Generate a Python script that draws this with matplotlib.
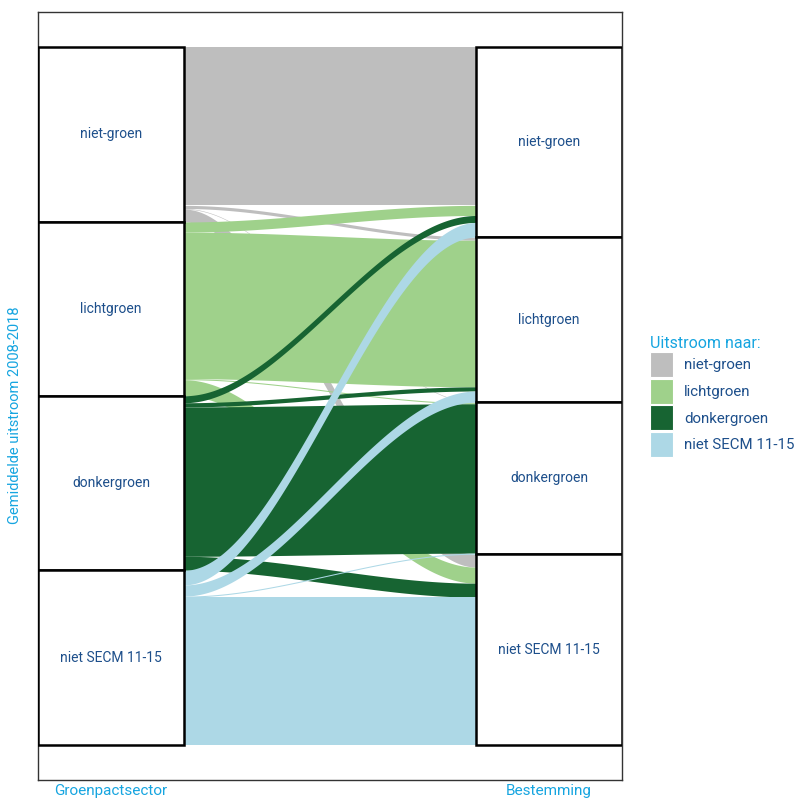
import numpy as np
import matplotlib
matplotlib.use("Agg")
import matplotlib.pyplot as plt
from matplotlib.patches import Rectangle, Patch

plt.rcParams['font.family'] = ['Roboto', 'DejaVu Sans']

# ---- data ----
categories = ["niet-groen", "lichtgroen", "donkergroen", "niet SECM 11-15"]
axis_labels = ["Groenpactsector", "Bestemming"]
# flows in % : rows = origin (Groenpactsector), cols = destination (Bestemming)
from_niet_groen = [22.7, 0.45, 0.08, 1.85]
from_lichtgroen = [1.45, 21.0, 0.15, 2.3]
from_donkergroen = [1.0, 0.6, 21.4, 2.0]
from_niet_secm = [2.1, 1.6, 0.15, 21.2]
colors = ["#bebebe", "#9fd18b", "#176432", "#add8e6"]

flows = np.array([from_niet_groen, from_lichtgroen, from_donkergroen, from_niet_secm])
n = len(categories)

dark_blue = "#1d4f8b"
cyan = "#16a5e0"

fig = plt.figure(figsize=(7.94, 8.0), dpi=100)
ax = fig.add_axes([38/794, 20/800, (622-38)/794, (780-12)/800])

w = 1/3
xl0 = 1 + w/2
xr0 = 2 - w/2

total = flows.sum()
scale = 100.0 / total
F = flows * scale

left_tot = F.sum(axis=1)
right_tot = F.sum(axis=0)
left_top = 100 - np.concatenate([[0], np.cumsum(left_tot)[:-1]])
right_top = 100 - np.concatenate([[0], np.cumsum(right_tot)[:-1]])

t = np.linspace(0, 1, 200)
s = 3*t**2 - 2*t**3
xs = xl0 + (xr0 - xl0) * t

# positions
ltop = np.zeros((n, n)); rtop = np.zeros((n, n))
for i in range(n):
    off = left_top[i]
    for j in range(n):
        ltop[i, j] = off
        off -= F[i, j]
for j in range(n):
    off = right_top[j]
    for i in range(n):
        rtop[i, j] = off
        off -= F[i, j]

for i in range(n):
    for j in range(n):
        v = F[i, j]
        if v <= 0:
            continue
        y0t, y1t = ltop[i, j], rtop[i, j]
        upper = y0t + (y1t - y0t) * s
        lower = upper - v
        ax.fill_between(xs, lower, upper, color=colors[i], lw=0, zorder=1)

# strata
for k in range(n):
    for xc, tops, tots in ((1, left_top, left_tot), (2, right_top, right_tot)):
        y_top = tops[k]
        h = tots[k]
        ax.add_patch(Rectangle((xc - w/2, y_top - h), w, h, facecolor="white",
                               edgecolor="black", lw=1.8, zorder=3))
        ax.text(xc, y_top - h/2, categories[k], ha="center", va="center",
                color=dark_blue, fontsize=10, zorder=4)

ax.set_xlim(1 - w/2, 2 + w/2)
ax.set_ylim(-5, 105)
ax.set_xticks([1, 2])
ax.set_xticklabels(axis_labels, color=cyan, fontsize=11)
ax.tick_params(axis="x", length=0, pad=3)
ax.set_yticks([])
for sp in ax.spines.values():
    sp.set_color("#333333")
    sp.set_linewidth(1.0)

fig.text(15/794, 1 - 415/800, "Gemiddelde uitstroom 2008-2018", rotation=90,
         ha="center", va="center", color=cyan, fontsize=10.5)

handles = [Patch(facecolor=c, edgecolor="white", lw=0.8) for c in colors]
leg = fig.legend(handles, categories, loc="upper left",
                 bbox_to_anchor=(636/794, 1 - 322/800), frameon=False,
                 title="Uitstroom naar:", title_fontsize=11.5, fontsize=10.8,
                 handlelength=1.55, handleheight=2.2, handletextpad=0.75,
                 labelspacing=0.1, alignment="left")
leg.get_title().set_color(cyan)
for txt in leg.get_texts():
    txt.set_color(dark_blue)

fig.savefig("out.png", dpi=100)
